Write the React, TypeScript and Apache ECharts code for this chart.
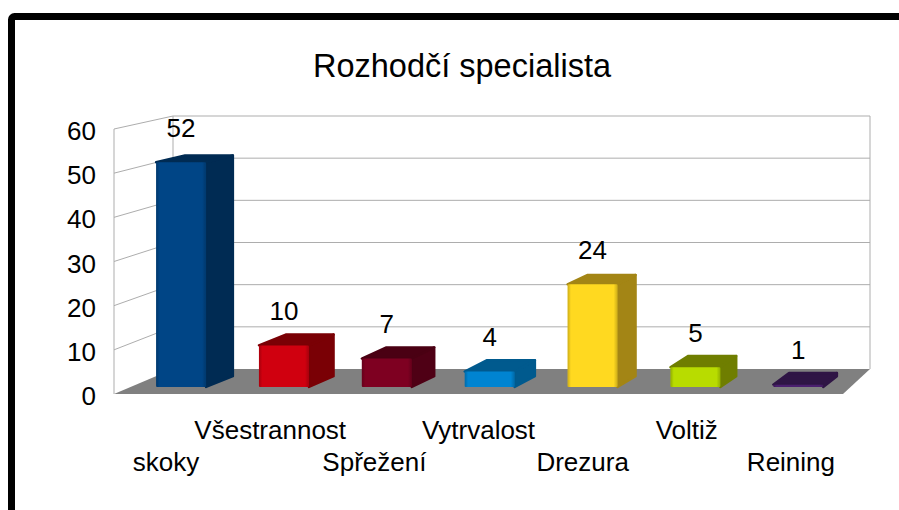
import React, { useEffect, useRef } from "react";
import * as echarts from "echarts";

const titleText = "Rozhodčí specialista";
const categories = ["skoky", "Všestrannost", "Spřežení", "Vytrvalost", "Drezura", "Voltiž", "Reining"];
const values = [52, 10, 7, 4, 24, 5, 1];
const ticks = [0, 10, 20, 30, 40, 50, 60];
const frontColors = ["#004586", "#d0000f", "#7e0021", "#0084d1", "#ffd920", "#b8dc00", "#4b1f6f"];
const sideColors = ["#002b53", "#7a0005", "#4f0015", "#005a8e", "#a38515", "#6f7e00", "#2f1545"];
const topColors = ["#002b53", "#7a0005", "#4a0013", "#005a8e", "#a38515", "#6f7e00", "#2f1545"];

const L = 114, B = 394, W = 729, H = 265; // front plane
const DX = 59, DY = 25, SHRINK_X = 32, SHRINK_Y = 12; // receding depth
const D1 = 0.28, D2 = 0.76;
const FRONT_LEFT = 26.2, FRONT_RIGHT = 24.4, BACK_RIGHT = 25.8;
const BEVEL_FRONT = 2, BEVEL_BACK = 1, R = 1.2;

const project = (px: number, py: number, d: number): number[] => [
  L + (px - L) * (1 - (SHRINK_X * d) / W) + DX * d,
  B - (B - py) * (1 - (SHRINK_Y * d) / H) - DY * d,
];

const darken = (hex: string, k: number) => {
  const n = parseInt(hex.slice(1), 16);
  const c = [(n >> 16) & 255, (n >> 8) & 255, n & 255].map((v) => Math.round(v * k));
  return `rgb(${c[0]},${c[1]},${c[2]})`;
};

const renderWall = (_p: any, api: any) => {
  const [, py] = api.coord([0, api.value(1)]);
  const fl = project(L, py, 0);
  const bl = project(L, py, 1);
  const br = project(L + W, py, 1);
  const line = { stroke: "#adadad", lineWidth: 1, fill: "none" };
  const children: any[] = [];
  if (api.value(1) === 0) {
    const fr = project(L + W, py, 0);
    children.push({
      type: "polygon",
      shape: { points: [fl, bl, br, fr] },
      style: { fill: "#808080" },
    });
    const top = api.coord([0, ticks[ticks.length - 1]])[1];
    children.push(
      { type: "line", shape: { x1: fl[0], y1: fl[1], x2: fl[0], y2: top }, style: line },
      { type: "line", shape: { x1: bl[0], y1: bl[1], x2: bl[0], y2: project(L, top, 1)[1] }, style: line },
      { type: "line", shape: { x1: br[0], y1: br[1], x2: br[0], y2: project(L, top, 1)[1] }, style: line },
    );
  } else {
    children.push(
      { type: "line", shape: { x1: fl[0], y1: fl[1], x2: bl[0], y2: bl[1] }, style: line },
      { type: "line", shape: { x1: bl[0], y1: bl[1], x2: br[0], y2: br[1] }, style: line },
    );
  }
  return { type: "group", children };
};

const renderBar = (p: any, api: any) => {
  const i = api.value(0);
  const v = api.value(1);
  const idx = p.dataIndex;
  const [cx, y0] = api.coord([i, 0]);
  const [, y1] = api.coord([i, v]);
  const a = project(cx - FRONT_LEFT, y0, D1), b = project(cx + FRONT_RIGHT, y0, D1);
  const topFront = project(cx + FRONT_RIGHT, y1, D1);
  const labelY = topFront[1] - 32.6;
  const c = [topFront[0], topFront[1] + BEVEL_FRONT];
  const d = [project(cx - FRONT_LEFT, y1, D1)[0], c[1]];
  const e0 = project(cx + BACK_RIGHT, y0, D2);
  const f0 = project(cx + BACK_RIGHT, y1, D2), g0 = project(cx - FRONT_LEFT, y1, D2);
  const e = [e0[0] - R, e0[1] + R];
  const f = [f0[0] - R, f0[1] + BEVEL_BACK + R], g = [g0[0] + R, g0[1] + BEVEL_BACK + R];
  const front = frontColors[idx];
  const mk = (points: number[][], fill: any) => ({
    type: "polygon",
    shape: { points },
    style: { fill, stroke: fill, lineWidth: R * 2, lineJoin: "round" },
  });
  const grad = new echarts.graphic.LinearGradient(0, 0, 1, 0, [
    { offset: 0, color: darken(front, 0.85) },
    { offset: 0.05, color: front },
    { offset: 0.94, color: front },
    { offset: 1, color: darken(front, 0.85) },
  ]);
  return {
    type: "group",
    children: [
      mk([b, e, f, c], sideColors[idx]),
      mk([d, c, f, g], topColors[idx]),
      {
        type: "polygon",
        shape: {
          points: [
            [a[0] + 1, a[1] - 1],
            [b[0] - 1, b[1] - 1],
            [c[0] - 1, c[1] + 1],
            [d[0] + 1, d[1] + 1],
          ],
        },
        style: { fill: grad, stroke: grad, lineWidth: 2, lineJoin: "round" },
      },
      {
        type: "text",
        style: {
          text: String(v),
          x: (a[0] + b[0]) / 2,
          y: labelY,
          fill: "#000",
          font: "26px 'Liberation Sans'",
          align: "center",
          verticalAlign: "middle",
        },
      },
    ],
  };
};

export default function App() {
  const ref = useRef<HTMLDivElement>(null);
  useEffect(() => {
    const chart = echarts.init(ref.current!, undefined, { renderer: "svg" });
    chart.setOption({
      animation: false,
      backgroundColor: "#fff",
      textStyle: { fontFamily: "Liberation Sans" },
      title: {
        text: titleText,
        left: 457,
        top: 44,
        textAlign: "center",
        textStyle: { fontSize: 32.5, fontWeight: "normal", color: "#000", fontFamily: "Liberation Sans" },
      },
      grid: { left: L, top: B - H, width: W, height: H },
      xAxis: {
        type: "category",
        data: categories,
        axisLine: { show: false },
        axisTick: { show: false },
        axisLabel: {
          interval: 0,
          hideOverlap: false,
          margin: 23,
          formatter: (val: string, i: number) => (i % 2 === 0 ? `{low|${val}}` : `{high|${val}}`),
          rich: {
            high: { fontSize: 26, color: "#000", fontFamily: "Liberation Sans", padding: [0, 0, 32, 0] },
            low: { fontSize: 26, color: "#000", fontFamily: "Liberation Sans", padding: [32, 0, 0, 0] },
          },
          verticalAlign: "top",
        },
      },
      yAxis: {
        type: "value",
        min: 0,
        max: 60,
        interval: 10,
        splitLine: { show: false },
        axisLine: { show: false },
        axisTick: { show: false },
        axisLabel: {
          margin: 18,
          formatter: (val: number) => `{t|${val}}`,
          rich: { t: { fontSize: 26, color: "#000", fontFamily: "Liberation Sans", padding: [4, 0, 0, 0] } },
        },
      },
      graphic: [
        {
          type: "rect",
          z: 100,
          shape: { x: 11.5, y: 16.5, width: 1200, height: 900, r: 3 },
          style: { fill: "none", stroke: "#000", lineWidth: 7 },
        },
      ],
      series: [
        {
          type: "custom",
          clip: false,
          z: 1,
          encode: { x: 0, y: 1 },
          data: ticks.map((t) => [0, t]),
          renderItem: renderWall,
          silent: true,
        },
        {
          type: "custom",
          clip: false,
          z: 2,
          encode: { x: 0, y: 1 },
          data: values.map((v, i) => [i, v]),
          renderItem: renderBar,
          silent: true,
        },
      ],
    });
    return () => chart.dispose();
  }, []);
  return <div ref={ref} style={{ position: "fixed", left: 0, top: 0, width: 899, height: 510 }} />;
}
